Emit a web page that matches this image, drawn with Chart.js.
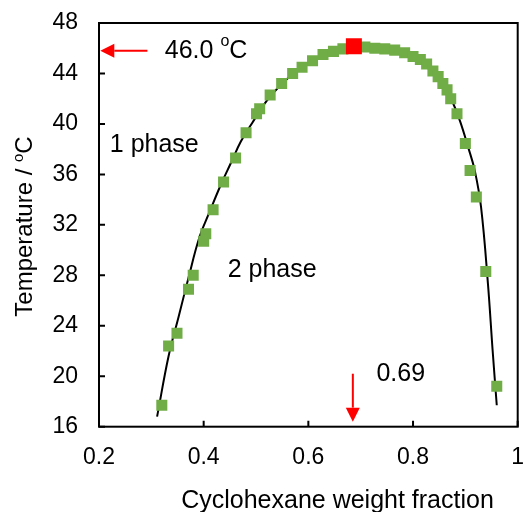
<!DOCTYPE html>
<html lang="en">
<head>
<meta charset="UTF-8">
<title>Cyclohexane weight fraction vs temperature</title>
<script src="https://cdn.jsdelivr.net/npm/chart.js"></script>
<style>
  html, body { margin: 0; padding: 0; background: #fff; }
</style>
</head>
<body>
<canvas id="chart" width="529" height="512"></canvas>
<script>
// measured cloud points (green squares)
const fraction = [0.320, 0.333, 0.349, 0.371, 0.380, 0.400, 0.404, 0.418, 0.438, 0.461,
  0.481, 0.501, 0.507, 0.527, 0.549, 0.570, 0.588, 0.608, 0.628, 0.648, 0.666,
  0.708, 0.727, 0.746, 0.765, 0.784, 0.800, 0.814, 0.826, 0.838, 0.848, 0.857,
  0.865, 0.872, 0.884, 0.900, 0.909, 0.921, 0.939, 0.960];
const temperature = [17.7, 22.4, 23.4, 26.9, 28.0, 30.7, 31.3, 33.2, 35.4, 37.3,
  39.3, 40.8, 41.2, 42.3, 43.2, 44.0, 44.5, 45.0, 45.5, 45.75, 45.95,
  46.1, 46.0, 45.95, 45.85, 45.65, 45.35, 45.1, 44.75, 44.2, 43.75, 43.2,
  42.7, 42.0, 40.8, 38.45, 36.3, 34.2, 28.3, 19.2];

// critical point (red square)
const criticalFraction = [0.687];
const criticalTemp = [46.15];

// fitted binodal curve (black line)
const fitFraction = [0.311, 0.333, 0.352, 0.371, 0.391, 0.411, 0.433, 0.452, 0.471, 0.493,
  0.520, 0.550, 0.580, 0.610, 0.640, 0.670, 0.690, 0.720, 0.750, 0.780, 0.810,
  0.835, 0.860, 0.876, 0.890, 0.905, 0.918, 0.930, 0.943, 0.952, 0.960];
const fitTemp = [16.8, 21.6, 24.7, 27.8, 30.9, 33.0, 35.2, 36.9, 38.6, 40.1,
  41.8, 43.2, 44.3, 45.1, 45.65, 45.95, 46.05, 46.0, 45.85, 45.55, 45.0,
  44.2, 43.0, 41.7, 40.2, 38.2, 36.3, 33.4, 27.4, 22.1, 17.7];

const xMin = 0.2, xMax = 1, xStep = 0.2;
const yMin = 16, yMax = 48, yStep = 4;

const FONT = "'Liberation Sans', Arial, sans-serif";
const toXY = (xs, ys) => xs.map((v, i) => ({ x: v, y: ys[i] }));
const fmtX = v => String(Number(v.toFixed(1)));

// text with a superscript part, e.g. "o" in oC
function drawRich(ctx, parts, x, y, size, align) {
  const supSize = Math.round(size * 0.62);
  let total = 0;
  parts.forEach(p => {
    ctx.font = (p.sup ? supSize : size) + 'px ' + FONT;
    p.w = ctx.measureText(p.t).width;
    total += p.w;
  });
  let cx = align === 'center' ? x - total / 2 : x;
  ctx.textAlign = 'left';
  parts.forEach(p => {
    ctx.font = (p.sup ? supSize : size) + 'px ' + FONT;
    ctx.fillText(p.t, cx, p.sup ? y - size * 0.36 : y);
    cx += p.w;
  });
}

function arrow(ctx, x1, y1, x2, y2) {
  const ang = Math.atan2(y2 - y1, x2 - x1);
  const len = 14, half = 7;
  const bx = x2 - len * Math.cos(ang), by = y2 - len * Math.sin(ang);
  ctx.beginPath();
  ctx.moveTo(x1, y1);
  ctx.lineTo(bx, by);
  ctx.stroke();
  ctx.beginPath();
  ctx.moveTo(x2, y2);
  ctx.lineTo(bx + half * Math.sin(ang), by - half * Math.cos(ang));
  ctx.lineTo(bx - half * Math.sin(ang), by + half * Math.cos(ang));
  ctx.closePath();
  ctx.fill();
}

const decor = {
  id: 'decor',
  afterDraw(chart) {
    const { ctx, chartArea: a, scales: { x, y } } = chart;
    ctx.save();
    // frame and inward tick marks
    ctx.strokeStyle = '#000';
    ctx.lineWidth = 2;
    ctx.strokeRect(a.left, a.top, a.right - a.left, a.bottom - a.top);
    ctx.beginPath();
    x.ticks.forEach(t => {
      const px = x.getPixelForValue(t.value);
      ctx.moveTo(px, a.bottom);
      ctx.lineTo(px, a.bottom - 6);
    });
    y.ticks.forEach(t => {
      const py = y.getPixelForValue(t.value);
      ctx.moveTo(a.left, py);
      ctx.lineTo(a.left + 6, py);
    });
    ctx.stroke();

    // x tick labels (drawn here so the last one may run off the edge)
    ctx.fillStyle = '#000';
    ctx.font = '23px ' + FONT;
    ctx.textAlign = 'center';
    ctx.textBaseline = 'middle';
    x.ticks.forEach(t => {
      ctx.fillText(fmtX(t.value), x.getPixelForValue(t.value), a.bottom + 31);
    });

    // red arrows
    ctx.strokeStyle = '#ff0000';
    ctx.fillStyle = '#ff0000';
    ctx.lineWidth = 2;
    arrow(ctx, x.getPixelForValue(0.2925), y.getPixelForValue(45.8),
      x.getPixelForValue(0.2025), y.getPixelForValue(45.8));
    arrow(ctx, x.getPixelForValue(0.685), y.getPixelForValue(20.2),
      x.getPixelForValue(0.685), y.getPixelForValue(16.4));

    // annotations
    ctx.fillStyle = '#000';
    ctx.textBaseline = 'middle';
    drawRich(ctx, [{ t: '46.0 ' }, { t: 'o', sup: true }, { t: 'C' }],
      x.getPixelForValue(0.3257), y.getPixelForValue(45.8), 25, 'left');
    drawRich(ctx, [{ t: '1 phase' }], x.getPixelForValue(0.2206), y.getPixelForValue(38.3), 25, 'left');
    drawRich(ctx, [{ t: '2 phase' }], x.getPixelForValue(0.4458), y.getPixelForValue(28.4), 25, 'left');
    drawRich(ctx, [{ t: '0.69' }], x.getPixelForValue(0.730), y.getPixelForValue(20.2), 25, 'left');

    // axis titles
    ctx.textBaseline = 'alphabetic';
    drawRich(ctx, [{ t: 'Cyclohexane weight fraction' }], 337.5, 508, 25, 'center');
    ctx.translate(32, 226.5);
    ctx.rotate(-Math.PI / 2);
    drawRich(ctx, [{ t: 'Temperature / ' }, { t: 'o', sup: true }, { t: 'C' }], 0, 0, 24, 'center');
    ctx.restore();
  }
};

new Chart(document.getElementById('chart'), {
  type: 'scatter',
  data: {
    datasets: [
      {
        label: 'Critical point',
        data: toXY(criticalFraction, criticalTemp),
        pointStyle: 'rect',
        pointRadius: 11.3,
        pointBorderWidth: 0,
        backgroundColor: '#ff0000',
        borderColor: '#ff0000'
      },
      {
        label: 'Cloud points',
        data: toXY(fraction, temperature),
        pointStyle: 'rect',
        pointRadius: 7.8,
        pointBorderWidth: 0,
        backgroundColor: '#70ad47',
        borderColor: '#70ad47'
      },
      {
        label: 'Fit',
        data: toXY(fitFraction, fitTemp),
        showLine: true,
        pointRadius: 0,
        borderColor: '#000',
        borderWidth: 2,
        tension: 0.4,
        fill: false
      }
    ]
  },
  options: {
    responsive: false,
    animation: false,
    events: [],
    layout: { padding: { left: 0, top: 23, right: 2, bottom: 0 } },
    plugins: { legend: { display: false }, tooltip: { enabled: false } },
    scales: {
      x: {
        type: 'linear',
        min: xMin, max: xMax,
        border: { display: false },
        grid: { display: false, drawTicks: false },
        ticks: { stepSize: xStep, display: false },
        afterFit: s => { s.height = 85.3; s.paddingLeft = 0; s.paddingRight = 0; }
      },
      y: {
        type: 'linear',
        min: yMin, max: yMax,
        border: { display: false },
        grid: { display: false, drawTicks: false },
        ticks: {
          stepSize: yStep,
          padding: 21,
          color: '#000',
          font: { family: FONT, size: 23 }
        },
        afterFit: s => { s.width = 99; s.paddingTop = 0; s.paddingBottom = 0; }
      }
    }
  },
  plugins: [decor]
});
</script>
</body>
</html>
